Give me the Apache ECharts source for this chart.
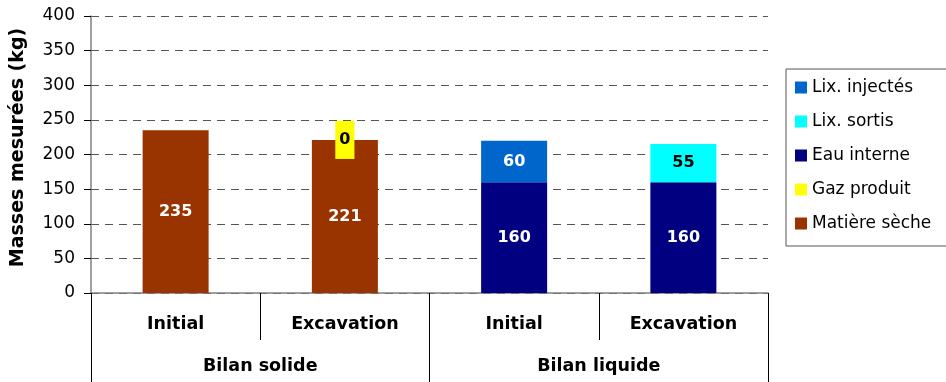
<!DOCTYPE html>
<html>
<head>
<meta charset="utf-8">
<script src="https://cdn.jsdelivr.net/npm/echarts@6/dist/echarts.min.js"></script>
<style>
  html, body { margin: 0; padding: 0; background: #fff; }
  #chart { width: 946px; height: 382px; }
</style>
</head>
<body>
<div id="chart"></div>
<script>
// Categories: sub-categories per bar and the two balance groups
const subCategories = ['Initial', 'Excavation', 'Initial', 'Excavation'];
const groupCategories = ['Bilan solide', 'Bilan liquide'];
const yTicks = { min: 0, max: 400, interval: 50 };

// Stacked masses (kg) per bar
const matiereSeche = [235, 221, '-', '-'];
const gazProduit = ['-', 0, '-', '-'];
const eauInterne = ['-', '-', 160, 160];
const lixSortis = ['-', '-', '-', 55];
const lixInjectes = ['-', '-', 60, '-'];

const legendOrder = ['Lix. injectés', 'Lix. sortis', 'Eau interne', 'Gaz produit', 'Matière sèche'];

const FONT = '"DejaVu Sans", "Liberation Sans", Arial, sans-serif';

function barSeries(name, data, color, labelColor, extraLabel) {
  return {
    name: name,
    type: 'bar',
    stack: 'total',
    data: data,
    barWidth: '39%',
    itemStyle: { color: color },
    label: Object.assign({
      show: true,
      position: 'inside',
      color: labelColor,
      fontFamily: FONT,
      fontWeight: 'bold',
      fontSize: 16
    }, extraLabel || {})
  };
}

const chart = echarts.init(document.getElementById('chart'), null, { renderer: 'canvas' });
chart.setOption({
  animation: false,
  backgroundColor: '#ffffff',
  grid: { left: 91, right: 178, top: 16, bottom: 89, containLabel: false },
  legend: {
    data: legendOrder,
    orient: 'vertical',
    left: 786,
    top: 69,
    padding: [10, 20, 14, 9],
    itemWidth: 12,
    itemHeight: 12,
    itemGap: 17,
    icon: 'rect',
    borderColor: '#555',
    borderWidth: 1,
    textStyle: { fontFamily: FONT, fontSize: 17, color: '#000' }
  },
  xAxis: [
    {
      type: 'category',
      data: subCategories,
      position: 'bottom',
      axisLine: { show: true, lineStyle: { color: '#808080', width: 1.5 } },
      axisTick: { show: true, length: 47, alignWithLabel: false, lineStyle: { color: '#000' } },
      axisLabel: { margin: 22, color: '#000', fontFamily: FONT, fontWeight: 'bold', fontSize: 17.5 }
    },
    {
      type: 'category',
      data: groupCategories,
      position: 'bottom',
      axisLine: { show: false },
      axisTick: { show: true, length: 89, alignWithLabel: false, lineStyle: { color: '#000' } },
      axisLabel: { margin: 64, color: '#000', fontFamily: FONT, fontWeight: 'bold', fontSize: 17.5 }
    }
  ],
  yAxis: {
    type: 'value',
    min: yTicks.min,
    max: yTicks.max,
    interval: yTicks.interval,
    name: 'Masses mesurées (kg)',
    nameLocation: 'middle',
    nameRotate: 90,
    nameGap: 63,
    nameTextStyle: {
      fontFamily: FONT, fontWeight: 'bold', fontSize: 19, color: '#000',
      padding: [0, 0, 0, 14]
    },
    axisLine: { show: true, lineStyle: { color: '#808080', width: 1.5 } },
    axisTick: { show: true, length: 7, lineStyle: { color: '#000' } },
    axisLabel: { margin: 16, color: '#000', fontFamily: FONT, fontSize: 17 },
    splitLine: { show: true, lineStyle: { color: '#555', type: [8, 6], width: 1 } }
  },
  series: [
    barSeries('Matière sèche', matiereSeche, '#993300', '#fff'),
    barSeries('Gaz produit', gazProduit, '#FFFF00', '#000', {
      backgroundColor: '#FFFF00', padding: [10, 4, 12, 4]
    }),
    barSeries('Eau interne', eauInterne, '#000080', '#fff'),
    barSeries('Lix. sortis', lixSortis, '#00FFFF', '#000'),
    barSeries('Lix. injectés', lixInjectes, '#0066CC', '#fff')
  ]
});
</script>
</body>
</html>
